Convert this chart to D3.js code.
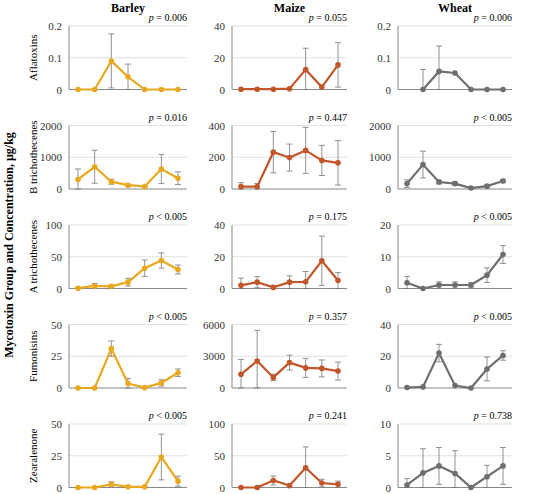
<!DOCTYPE html>
<html><head><meta charset="utf-8">
<script src="https://cdn.jsdelivr.net/npm/d3@7"></script>
<style>body{margin:0;background:#fff}text{font-family:"Liberation Serif","DejaVu Serif",serif}</style>
</head><body><svg id="c" width="556" height="494"></svg>
<script>
var crops = ["Barley","Maize","Wheat"];
var groups = ["Aflatoxins","B trichothecenes","A trichothecenes","Fumonisins","Zearalenone"];
var colors = ["#E8A91E","#C0562A","#6E6E6E"];
var yMax = [[0.2,40,0.2],[2000,400,2000],[100,40,20],[50,6000,40],[50,100,10]];
var yTicks = [[[0,0.1,0.2],[0,20,40],[0,0.1,0.2]],[[0,1000,2000],[0,200,400],[0,1000,2000]],
  [[0,50,100],[0,20,40],[0,10,20]],[[0,25,50],[0,3000,6000],[0,20,40]],[[0,25,50],[0,50,100],[0,5,10]]];
var pvals = [["p = 0.006","p = 0.055","p = 0.006"],["p = 0.016","p = 0.447","p < 0.005"],
  ["p < 0.005","p = 0.175","p < 0.005"],["p < 0.005","p = 0.357","p < 0.005"],["p < 0.005","p = 0.241","p = 0.738"]];
// means [group][crop]
var means = [
 [[0,0,0.09,0.04,0,0,0],[0.2,0.2,0.2,0.5,12.5,1.5,15.5],[null,0,0.057,0.052,0,0,0]],
 [[300,700,230,120,80,630,340],[15,15,232,198,243,180,165],[170,770,220,170,30,90,250]],
 [[0.5,4,3.5,10,32,44,30],[2,4,0.7,4,4.2,17.5,5],[1.8,0,1.1,1.1,1.1,4.2,10.7]],
 [[0,0,31,3.5,0.3,4,12],[1300,2550,1000,2400,1900,1850,1600],[0.3,0.7,22,1.5,0,12,20.5]],
 [[0,0,2.5,0.5,0.5,24,5],[0,0,11,3,31,7,5],[0.4,2.3,3.4,2.2,0,1.7,3.4]]];
var sds = [
 [[0,0,0.085,0.04,0,0,0],[0,0,0,0,13.5,0,14],[0,0.063,0.08,0,0,0,0]],
 [[330,520,80,30,20,460,200],[25,20,130,85,145,95,140],[120,420,60,60,20,40,50]],
 [[1,4,2,6,13,12,7],[4.5,3.5,0,4,6.5,15.5,5],[2,0,1,1,0.7,2.3,2.8]],
 [[0,0,6,4,0.5,2.5,3],[1400,2900,300,700,900,800,850],[0,0,5.5,0,0,7.5,3]],
 [[0,0,2,0.5,0.3,18,4],[0,0,7,0,33,6,5],[1,3.8,2.9,3.6,0,1.8,2.9]]];

var svg = d3.select("#c");
var colX = [[69,187],[232,347],[398,512]];
var rowTop = 26, rowStep = 99.5, rowH = 63.5;

crops.forEach(function(c, j){
  svg.append("text").attr("x",(colX[j][0]+colX[j][1])/2).attr("y",12).attr("text-anchor","middle")
    .attr("font-weight","bold").attr("font-size",12).text(c);
});
svg.append("text").attr("transform","translate(13,245) rotate(-90)").attr("text-anchor","middle")
  .attr("font-weight","bold").attr("font-size",12).text("Mycotoxin Group and Concentration, µg/kg");

groups.forEach(function(g, i){
  var top = rowTop + i*rowStep, bot = top + rowH;
  svg.append("text").attr("transform","translate(37,"+((top+bot)/2)+") rotate(-90)")
    .attr("text-anchor","middle").attr("font-size",11).text(g);
  crops.forEach(function(c, j){
    var x = d3.scalePoint().domain(d3.range(7)).range([colX[j][0]+9, colX[j][1]-9]);
    var y = d3.scaleLinear().domain([0,yMax[i][j]]).range([bot,top]);
    var p = svg.append("g");
    p.selectAll(".grid").data(yTicks[i][j].slice(1)).enter().append("line")
      .attr("x1",colX[j][0]).attr("x2",colX[j][1]).attr("y1",y).attr("y2",y)
      .attr("stroke","#d9d9d9").attr("stroke-width",0.8);
    p.selectAll(".tk").data(yTicks[i][j]).enter().append("text")
      .attr("x",colX[j][0]-7).attr("y",function(d){return y(d)+4;}).attr("text-anchor","end")
      .attr("font-size",11).attr("fill","#333").text(function(d){return d;});
    p.append("line").attr("x1",colX[j][0]).attr("x2",colX[j][0]).attr("y1",top).attr("y2",bot).attr("stroke","#888").attr("stroke-width",1);
    p.append("line").attr("x1",colX[j][0]).attr("x2",colX[j][1]).attr("y1",bot).attr("y2",bot).attr("stroke","#888").attr("stroke-width",1.2);
    var pt = pvals[i][j].split(" ");
    var pl = p.append("text").attr("x",colX[j][1]).attr("y",top-5).attr("text-anchor","end").attr("font-size",10);
    pl.append("tspan").attr("font-style","italic").text("p");
    pl.append("tspan").text(" " + pt.slice(1).join(" "));
    var pts = means[i][j].map(function(v,k){return {k:k,v:v,s:sds[i][j][k]};}).filter(function(d){return d.v!==null;});
    var eb = pts.filter(function(d){return d.s>0;});
    p.selectAll(".eb").data(eb).enter().append("path")
      .attr("d",function(d){var x0=x(d.k),y1=y(Math.max(0,d.v-d.s)),y2=y(Math.min(yMax[i][j]*1.05,d.v+d.s));
        return "M"+x0+","+y1+"V"+y2+"M"+(x0-3)+","+y2+"H"+(x0+3)+"M"+(x0-3)+","+y1+"H"+(x0+3);})
      .attr("stroke","#777").attr("stroke-width",0.8).attr("fill","none");
    p.append("path").datum(pts).attr("fill","none").attr("stroke",colors[j]).attr("stroke-width",2.2)
      .attr("d",d3.line().x(function(d){return x(d.k);}).y(function(d){return y(d.v);}));
    p.selectAll(".dot").data(pts).enter().append("circle").attr("cx",function(d){return x(d.k);})
      .attr("cy",function(d){return y(d.v);}).attr("r",2.8).attr("fill",colors[j]);
  });
});
</script></body></html>
